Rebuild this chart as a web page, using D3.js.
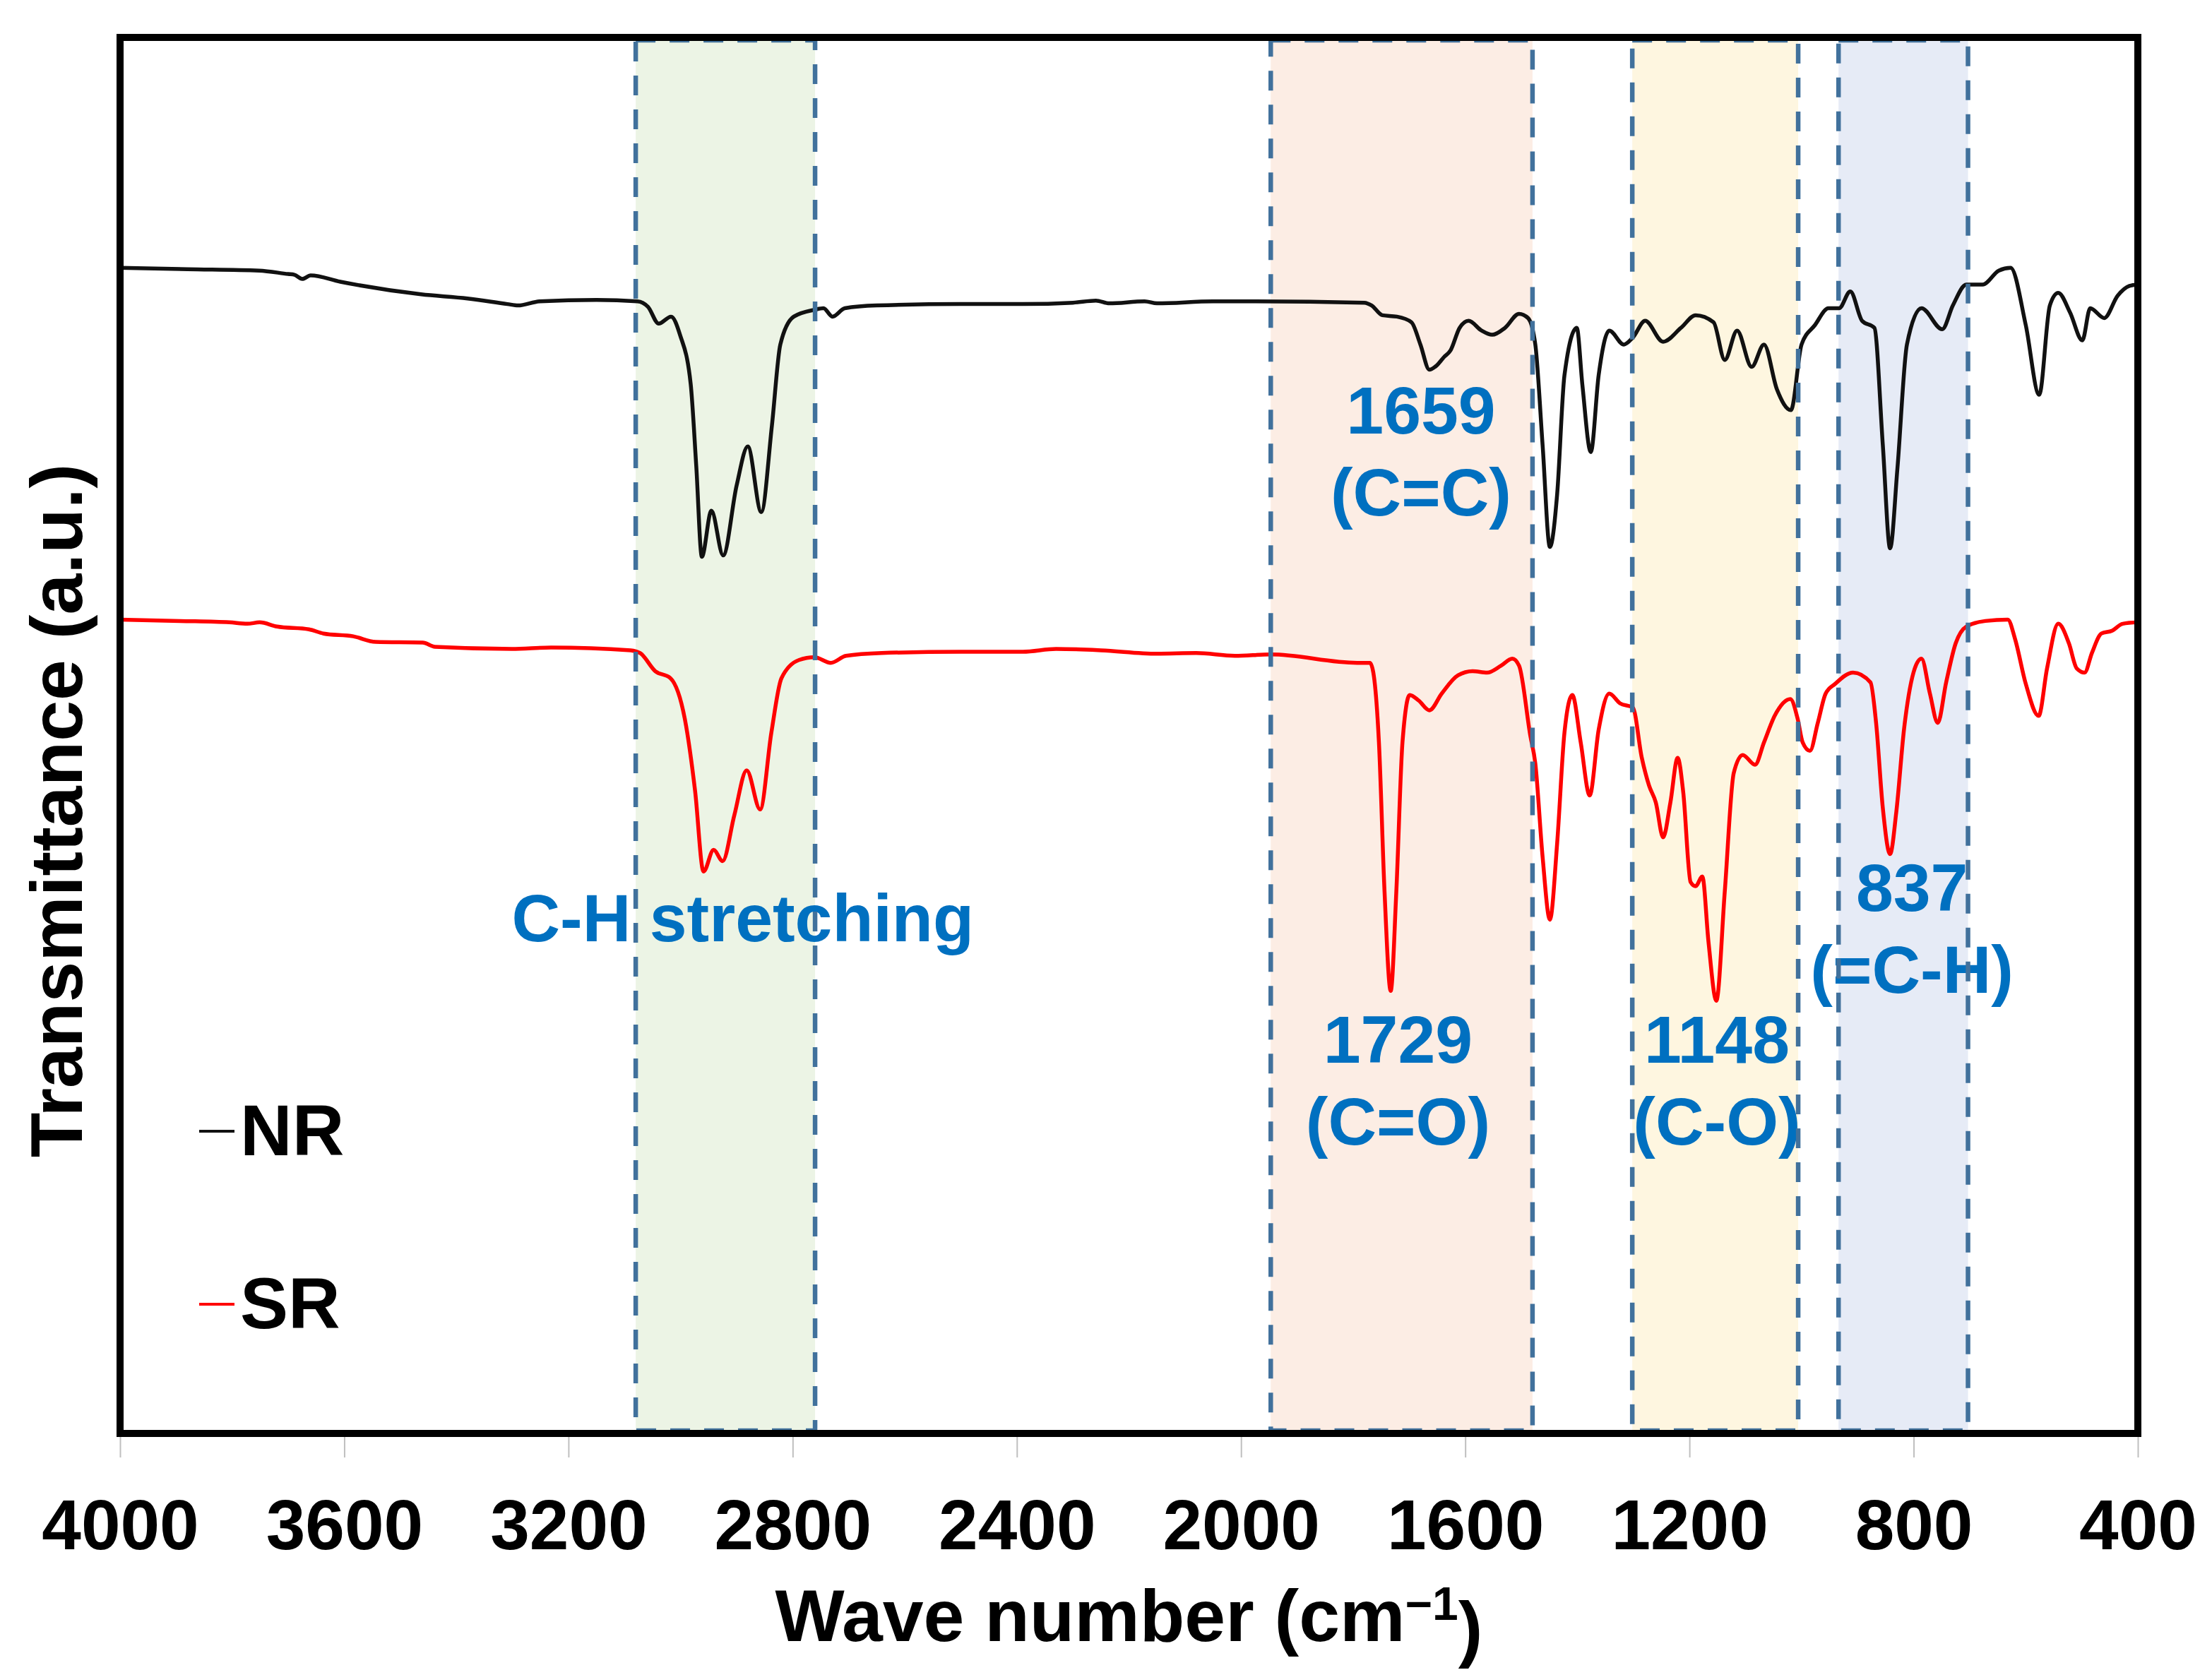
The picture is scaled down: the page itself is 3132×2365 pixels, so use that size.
<!doctype html>
<html>
<head>
  <meta charset="utf-8">
  <title>FTIR NR vs SR</title>
  <script src="https://cdnjs.cloudflare.com/ajax/libs/d3/7.8.5/d3.min.js"></script>
  <style>
    html, body { margin: 0; padding: 0; background: #fff; }
    text { font-family: "Liberation Sans", Arial, sans-serif; font-weight: bold; }
  </style>
</head>
<body>
<div id="chart"></div>
<script>
// ---- data (wave number cm-1, transmittance a.u.) ----
const nr = [
  [4000, 83.5], [3880, 83.4], [3752, 83.3], [3700, 83.05], [3689, 83.0], [3675, 82.7],
  [3660, 82.95], [3607, 82.5], [3463, 81.6], [3380, 81.3], [3309, 80.9], [3290, 80.8],
  [3251, 81.1], [3150, 81.2], [3077, 81.1], [3058, 80.7], [3039, 79.5], [3017, 80.0],
  [3001, 78.7], [2982, 75.2], [2972, 69.3], [2962, 62.8], [2945, 66.1], [2924, 62.9],
  [2900, 67.9], [2880, 70.7], [2856, 66.0], [2837, 72.2], [2822, 78.0], [2798, 80.0],
  [2760, 80.5], [2745, 80.6], [2729, 80.0], [2707, 80.6], [2650, 80.8], [2500, 80.9],
  [2389, 80.9], [2300, 81.0], [2259, 81.15], [2235, 80.95], [2172, 81.1], [2150, 80.95],
  [2050, 81.1], [2011, 81.1], [1780, 81.0], [1767, 80.8], [1748, 80.1], [1722, 80.0],
  [1696, 79.6], [1680, 78.0], [1664, 76.2], [1651, 76.5], [1638, 77.1], [1626, 77.6],
  [1610, 79.2], [1594, 79.7], [1571, 79.0], [1552, 78.7], [1529, 79.2], [1504, 80.2],
  [1488, 79.9], [1475, 78.0], [1462, 70.8], [1449, 63.5], [1436, 67.3], [1423, 75.8],
  [1401, 79.2], [1391, 75.1], [1376, 70.3], [1362, 75.8], [1343, 79.0], [1317, 78.0],
  [1301, 78.5], [1279, 79.7], [1247, 78.2], [1215, 79.2], [1189, 80.1], [1157, 79.6],
  [1137, 76.9], [1115, 79.0], [1089, 76.4], [1067, 78.0], [1044, 74.8], [1019, 73.3],
  [1000, 78.0], [976, 79.4], [952, 80.6], [933, 80.6], [913, 81.8], [892, 79.7],
  [870, 79.2], [855, 70.8], [842, 63.4], [829, 69.1], [812, 78.0], [786, 80.6],
  [749, 79.1], [730, 80.8], [706, 82.3], [677, 82.3], [648, 83.3], [627, 83.5],
  [600, 79.4], [576, 74.4], [557, 80.8], [542, 81.7], [521, 80.3], [499, 78.3],
  [485, 80.6], [460, 79.9], [436, 81.5], [415, 82.2], [400, 82.3]
];

const sr = [
  [4000, 58.3], [3893, 58.2], [3805, 58.1], [3773, 58.0], [3751, 58.1], [3720, 57.8],
  [3663, 57.6], [3637, 57.3], [3584, 57.1], [3544, 56.7], [3460, 56.65], [3438, 56.35],
  [3301, 56.2], [3231, 56.3], [3089, 56.1], [3072, 55.9], [3045, 54.6], [3018, 54.1],
  [2992, 51.1], [2974, 46.0], [2959, 40.25], [2941, 41.8], [2925, 41.0], [2904, 44.3],
  [2882, 47.5], [2858, 44.7], [2838, 50.2], [2820, 54.1], [2789, 55.4], [2761, 55.6],
  [2732, 55.2], [2705, 55.7], [2641, 55.9], [2500, 56.0], [2389, 56.0], [2330, 56.2],
  [2250, 56.1], [2150, 55.85], [2080, 55.9], [2011, 55.7], [1947, 55.8], [1793, 55.2],
  [1770, 55.2], [1764, 54.5], [1754, 49.5], [1744, 38.8], [1733, 31.7], [1723, 38.8],
  [1712, 49.5], [1699, 52.9], [1683, 52.5], [1664, 51.8], [1642, 53.0], [1613, 54.3],
  [1587, 54.6], [1561, 54.5], [1536, 55.0], [1516, 55.5], [1504, 55.0], [1484, 50.0],
  [1475, 48.0], [1462, 41.3], [1449, 36.8], [1436, 42.3], [1423, 50.2], [1409, 52.9],
  [1394, 49.5], [1378, 45.7], [1362, 50.4], [1343, 53.0], [1324, 52.3], [1301, 52.0],
  [1285, 48.4], [1272, 46.4], [1260, 45.2], [1247, 42.7], [1234, 45.2], [1221, 48.4],
  [1211, 45.9], [1198, 39.5], [1189, 39.2], [1177, 39.9], [1166, 35.2], [1152, 31.0],
  [1137, 38.8], [1121, 47.3], [1105, 48.6], [1083, 47.9], [1067, 49.5], [1048, 51.4],
  [1020, 52.6], [1007, 51.2], [998, 49.5], [985, 48.9], [971, 50.9], [957, 53.0],
  [940, 53.7], [908, 54.5], [877, 53.8], [867, 50.9], [855, 44.8], [842, 41.5],
  [831, 44.5], [817, 50.5], [798, 54.8], [786, 55.5], [771, 53.0], [757, 50.9],
  [742, 53.8], [725, 56.6], [706, 57.8], [672, 58.2], [632, 58.3], [619, 56.9],
  [600, 53.7], [577, 51.4], [562, 54.8], [542, 58.0], [523, 56.6], [509, 54.8],
  [495, 54.5], [482, 55.9], [465, 57.3], [446, 57.5], [427, 58.0], [400, 58.1]
];

const xTicks = [4000, 3600, 3200, 2800, 2400, 2000, 1600, 1200, 800, 400];

// shaded regions [from, to] in cm-1
const bands = [[3080, 2760], [1947, 1480], [1302, 1006], [934, 703]];
const bandColors = ['#ecf4e5', '#fcede4', '#fef6e0', '#e6ebf6'];

// peak labels: [centre wave number, baseline value, lines]
const labels = [
  [2889, 35.25, ['C-H stretching']],
  [1679, 71.6, ['1659', '(C=C)']],
  [1720, 26.56, ['1729', '(C=O)']],
  [1151, 26.56, ['1148', '(C-O)']],
  [803, 37.43, ['837', '(=C-H)']]
];

const seriesNames = ['NR', 'SR'];
const seriesColors = ['#111', '#ff0000'];

// ---- layout ----
const W = 3132, H = 2365;
const plotL = 170, plotR = 3027, plotT = 53, plotB = 2030;

const svg = d3.select('#chart')
  .append('svg')
  .attr('width', W)
  .attr('height', H);

const x = d3.scaleLinear().domain([4000, 400]).range([plotL, plotR]);
const y = d3.scaleLinear().domain([0, 100]).range([plotB, plotT]);

// bands (fill)
svg.append('g')
  .selectAll('rect')
  .data(bands)
  .join('rect')
  .attr('x', d => x(d[0]))
  .attr('y', y(100))
  .attr('width', d => x(d[1]) - x(d[0]))
  .attr('height', y(0) - y(100))
  .style('fill', (d, i) => bandColors[i]);

// spectra
const line = d3.line()
  .x(d => x(d[0]))
  .y(d => y(d[1]))
  .curve(d3.curveMonotoneX);

svg.append('g')
  .selectAll('path')
  .data([nr, sr])
  .join('path')
  .attr('d', line)
  .style('fill', 'none')
  .style('stroke', (d, i) => seriesColors[i])
  .style('stroke-width', 5.5)
  .style('stroke-linejoin', 'round');

// peak labels
const lab = svg.append('g')
  .selectAll('text')
  .data(labels)
  .join('text')
  .attr('x', d => x(d[0]))
  .attr('y', d => y(d[1]))
  .attr('text-anchor', 'middle')
  .style('font-size', '95px')
  .style('fill', '#0070c0');

lab.selectAll('tspan')
  .data(d => d[2].map(t => ({t, x: x(d[0])})))
  .join('tspan')
  .attr('x', d => d.x)
  .attr('dy', (d, i) => i === 0 ? 0 : '1.22em')
  .text(d => d.t);

// band outlines, dashed, on top
svg.append('g')
  .selectAll('rect')
  .data(bands)
  .join('rect')
  .attr('x', d => x(d[0]))
  .attr('y', y(100) + 4)
  .attr('width', d => x(d[1]) - x(d[0]))
  .attr('height', y(0) - y(100) - 8)
  .style('fill', 'none')
  .style('stroke', '#41719c')
  .style('stroke-width', 6.5)
  .style('stroke-dasharray', '28,20');

// x axis ticks (gray, outside)
const xAxis = svg.append('g')
  .attr('transform', `translate(0,${plotB})`)
  .call(d3.axisBottom(x).tickValues(xTicks).tickSize(34).tickFormat(d3.format('d')));

xAxis.select('.domain').remove();
xAxis.selectAll('.tick line')
  .attr('y1', 5)
  .style('stroke', '#bfbfbf')
  .style('stroke-width', 2);
xAxis.selectAll('.tick text')
  .attr('y', 164)
  .attr('dy', null)
  .style('font-size', '100px')
  .style('fill', '#000');

// frame
svg.append('rect')
  .attr('x', plotL)
  .attr('y', plotT)
  .attr('width', plotR - plotL)
  .attr('height', plotB - plotT)
  .style('fill', 'none')
  .style('stroke', '#000')
  .style('stroke-width', 10);

// axis titles
const xt = svg.append('text')
  .attr('x', (plotL + plotR) / 2)
  .attr('y', 2324)
  .attr('text-anchor', 'middle')
  .style('font-size', '104px');
xt.append('tspan').text('Wave number (cm');
xt.append('tspan').attr('dy', '-0.45em').style('font-size', '66px').text('\u22121');
xt.append('tspan').attr('dy', '0.45em').text(')');

svg.append('text')
  .attr('transform', 'rotate(-90)')
  .attr('x', -1148)
  .attr('y', 116)
  .attr('text-anchor', 'middle')
  .style('font-size', '104px')
  .text('Transmittance (a.u.)');

// legend
const legend = svg.append('g')
  .selectAll('g')
  .data(seriesNames)
  .join('g')
  .attr('transform', (d, i) => `translate(${plotL + 112},${1636 + i * 245})`);

legend.append('line')
  .attr('x1', 0)
  .attr('x2', 50)
  .attr('y1', -34)
  .attr('y2', -34)
  .style('stroke', (d, i) => seriesColors[i])
  .style('stroke-width', 4);

legend.append('text')
  .attr('x', 58)
  .attr('y', 0)
  .style('font-size', '102px')
  .style('fill', '#000')
  .text(d => d);
</script>
</body>
</html>
